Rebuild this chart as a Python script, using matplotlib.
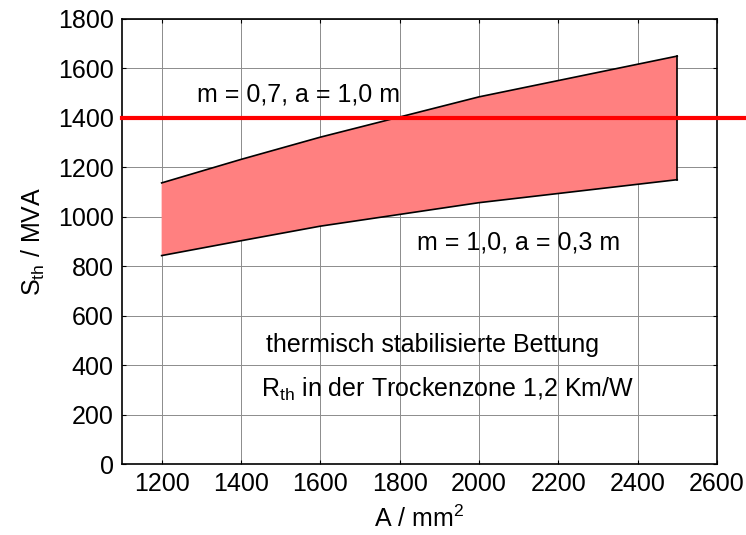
import matplotlib
matplotlib.use("Agg")
import matplotlib.pyplot as plt

plt.rcParams['font.family'] = ['Liberation Sans', 'DejaVu Sans']
plt.rcParams['mathtext.fontset'] = 'custom'
plt.rcParams['mathtext.rm'] = 'Liberation Sans'
plt.rcParams['mathtext.it'] = 'Liberation Sans'

# cross section A / mm^2
area = [1200, 1400, 1600, 2000, 2500]
# upper bound S_th (m = 0,7, a = 1,0 m)
s_upper = [1137, 1232, 1322, 1485, 1650]
# lower bound S_th (m = 1,0, a = 0,3 m)
s_lower = [843, 903, 962, 1057, 1150]
# reference level
s_ref = 1400

FS = 18

fig = plt.figure(figsize=(7.46, 5.35), dpi=100)
ax = fig.add_axes([0.1635, 0.1327, 0.7975, 0.8318])

ax.fill_between(area, s_lower, s_upper, facecolor="#FF8080", edgecolor="none", zorder=2)
ax.plot(area, s_upper, color="black", lw=1.2, zorder=3)
ax.plot(area, s_lower, color="black", lw=1.2, zorder=3)
ax.plot([area[-1], area[-1]], [s_lower[-1], s_upper[-1]], color="black", lw=1.2, zorder=3)
ax.plot([1100, 2785], [s_ref, s_ref], color="red", lw=3, clip_on=False, zorder=4)

ax.set_xlim(1100, 2600)
ax.set_ylim(0, 1800)
ax.set_xticks(range(1200, 2601, 200))
ax.set_yticks(range(0, 1801, 200))
ax.grid(True, color="#8c8c8c", lw=0.7)
ax.set_axisbelow(True)
ax.tick_params(direction="in", top=True, right=True, labelsize=FS, length=3, pad=6)
for s in ax.spines.values():
    s.set_linewidth(1.2)

ax.set_xlabel("A / mm$^2$", fontsize=FS, labelpad=7)
ax.set_ylabel("S$_{\\rm th}$ / MVA", fontsize=FS, labelpad=8)

ax.text(1545, 1493, "m = 0,7, a = 1,0 m", fontsize=FS, ha="center", va="center")
ax.text(2100, 894, "m = 1,0, a = 0,3 m", fontsize=FS, ha="center", va="center")
ax.text(1882, 481, "thermisch stabilisierte Bettung", fontsize=FS, ha="center", va="center")
ax.text(1920, 300, "R$_{\\rm th}$ in der Trockenzone 1,2 Km/W", fontsize=FS, ha="center", va="center")

fig.savefig("out.png", dpi=100)
